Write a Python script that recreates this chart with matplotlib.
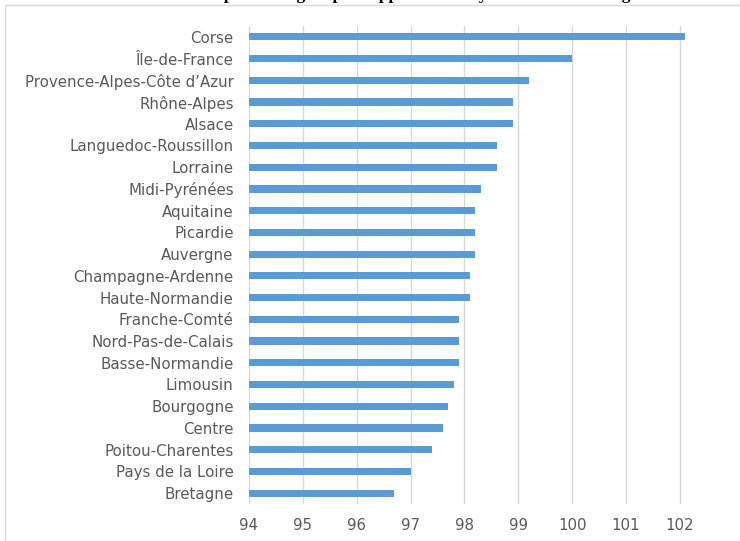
import matplotlib
matplotlib.use("Agg")
import matplotlib.pyplot as plt
from matplotlib.patches import Rectangle

regions = ["Corse", "Île-de-France", "Provence-Alpes-Côte d\u2019Azur", "Rhône-Alpes",
           "Alsace", "Languedoc-Roussillon", "Lorraine", "Midi-Pyrénées", "Aquitaine",
           "Picardie", "Auvergne", "Champagne-Ardenne", "Haute-Normandie",
           "Franche-Comté", "Nord-Pas-de-Calais", "Basse-Normandie", "Limousin",
           "Bourgogne", "Centre", "Poitou-Charentes", "Pays de la Loire", "Bretagne"]
values = [102.1, 100.0, 99.2, 98.9, 98.9, 98.6, 98.6, 98.3, 98.2, 98.2, 98.2,
          98.1, 98.1, 97.9, 97.9, 97.9, 97.8, 97.7, 97.6, 97.4, 97.0, 96.7]
xticks = [94, 95, 96, 97, 98, 99, 100, 101, 102]
title = "Indices des écarts de niveau de prix en région par rapport à la moyenne des autres régions"

fig = plt.figure(figsize=(7.4, 5.41), dpi=100)
ax = fig.add_axes([249 / 740, 1 - 504 / 541, (696 - 249) / 740, (504 - 26) / 541])

pos = list(range(len(regions)))[::-1]
ax.barh(pos, [v - 94 for v in values], left=94, height=0.33, color="#5b9bd5", zorder=3)

ax.set_xlim(94, 102.3)
ax.set_ylim(-0.5, len(regions) - 0.5)
ax.set_xticks(xticks)
ax.set_xticklabels([str(t) for t in xticks])
ax.set_yticks(pos)
ax.set_yticklabels(regions)
ax.grid(axis="x", color="#d9d9d9", linewidth=1, zorder=0)
for s in ax.spines.values():
    s.set_visible(False)
ax.tick_params(length=0, labelsize=10.8, labelcolor="#595959")
ax.tick_params(axis="y", pad=11)
ax.tick_params(axis="x", pad=10)
for lab in ax.get_xticklabels() + ax.get_yticklabels():
    lab.set_family("DejaVu Sans")

# chart border
fig.patches.append(Rectangle((5 / 740, -0.05), 1.1, 1 - 5 / 541 + 0.05,
                             transform=fig.transFigure, fill=False,
                             edgecolor="#d9d9d9", linewidth=1))

# title, mostly cut off at the top like in the source
fig.text(-0.012, 1 + 1 / 541, title, fontsize=12.5, fontweight="bold",
         family="Liberation Serif", va="baseline", ha="left")

fig.savefig("out.png", dpi=100)
